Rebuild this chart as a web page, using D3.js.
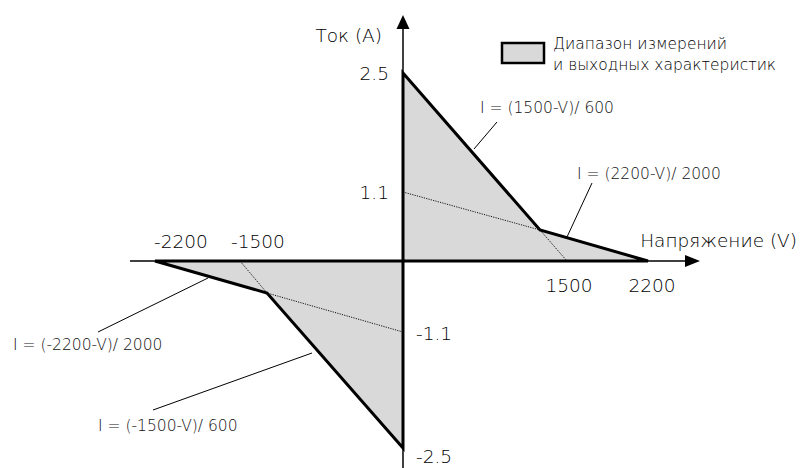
<!DOCTYPE html>
<html><head><meta charset="utf-8">
<script src="https://cdn.jsdelivr.net/npm/d3@7"></script>
<style>
html,body{margin:0;padding:0;background:#fff;}
svg{display:block;font-family:"DejaVu Sans",sans-serif;}
</style></head>
<body>
<svg id="chart" width="804" height="468"></svg>
<script>
// ---- data ----
const voltageKnots = [-2200, -1500, -1200, 0, 1200, 1500, 2200];
const currentKnots = [-2.5, -1.1, -0.5, 0, 0.5, 1.1, 2.5];
const xTickValues = [-2200, -1500, 1500, 2200];
const xTickLabels = ["-2200", "-1500", "1500", "2200"];
const yTickValues = [2.5, 1.1, -1.1, -2.5];
const yTickLabels = ["2.5", "1.1", "-1.1", "-2.5"];
const positiveRegion = [[0, 0], [0, 2.5], [1200, 0.5], [2200, 0]];
const negativeRegion = [[0, 0], [-2200, 0], [-1200, -0.5], [0, -2.5]];
const guideLines = [
  [[0, 1.1], [1200, 0.5]],
  [[1200, 0.5], [1500, 0]],
  [[0, -1.1], [-1200, -0.5]],
  [[-1200, -0.5], [-1500, 0]]
];
const formulaLabels = ["I = (1500-V)/ 600", "I = (2200-V)/ 2000", "I = (-2200-V)/ 2000", "I = (-1500-V)/ 600"];
const legendLines = ["Диапазон измерений", "и выходных характеристик"];
const xTitle = "Напряжение (V)";
const yTitle = "Ток (А)";

// ---- scales (schematic, piecewise linear) ----
const x = d3.scaleLinear().domain(voltageKnots).range([155, 240, 267, 403, 540, 567, 648]);
const y = d3.scaleLinear().domain(currentKnots).range([448, 332, 293, 261, 230, 192, 73]);

const svg = d3.select("#chart");
const line = d3.line().x(d => x(d[0])).y(d => y(d[1]));
const FW = 200, TC = "#000";

// regions
svg.selectAll("path.region").data([positiveRegion, negativeRegion]).join("path")
  .attr("class", "region")
  .attr("d", d => line(d) + "Z")
  .attr("fill", "#d9d9d9").attr("stroke", "none");

// guide dotted lines
svg.selectAll("path.guide").data(guideLines).join("path")
  .attr("d", line).attr("fill", "none")
  .attr("stroke", "#111").attr("stroke-width", 1).attr("stroke-dasharray", "1.2,1.2");

// axes
const x0 = x(0), y0 = y(0);
svg.append("line").attr("x1", 130).attr("x2", 688).attr("y1", y0).attr("y2", y0)
  .attr("stroke", "#000").attr("stroke-width", 1.5);
svg.append("path").attr("d", `M700,${y0} L685,${y0 - 6} L685,${y0 + 6} Z`).attr("fill", "#000");
svg.append("line").attr("x1", x0).attr("x2", x0).attr("y1", 25).attr("y2", 468)
  .attr("stroke", "#000").attr("stroke-width", 1.5);
svg.append("path").attr("d", `M${x0},15 L${x0 - 6.5},29 L${x0 + 6.5},29 Z`).attr("fill", "#000");

// region outlines
svg.selectAll("path.outline").data([positiveRegion, negativeRegion]).join("path")
  .attr("d", d => line(d) + "Z")
  .attr("fill", "none").attr("stroke", "#000").attr("stroke-width", 3).attr("stroke-linejoin", "miter");

// x tick labels
const xLabelShift = [26, 18, 2, 4];
svg.selectAll("text.xt").data(xTickValues).join("text")
  .attr("x", (d, i) => x(d) + xLabelShift[i])
  .attr("y", d => d < 0 ? 248 : 292)
  .attr("text-anchor", "middle")
  .attr("font-size", 18.5).attr("font-weight", FW).attr("fill", TC)
  .text((d, i) => xTickLabels[i]);

// y tick labels
const yLabelShift = [7, 7, 8, 15];
svg.selectAll("text.yt").data(yTickValues).join("text")
  .attr("x", d => d > 0 ? x0 - 14 : x0 + 13)
  .attr("y", (d, i) => y(d) + yLabelShift[i])
  .attr("text-anchor", d => d > 0 ? "end" : "start")
  .attr("font-size", 18.5).attr("font-weight", FW).attr("fill", TC)
  .text((d, i) => yTickLabels[i]);

// axis titles
svg.append("text").attr("x", 382).attr("y", 42).attr("text-anchor", "end")
  .attr("font-size", 18.5).attr("font-weight", FW).attr("fill", TC).text(yTitle);
svg.append("text").attr("x", 797).attr("y", 247).attr("text-anchor", "end")
  .attr("font-size", 18.5).attr("font-weight", FW).attr("fill", TC).text(xTitle);

// legend
svg.append("rect").attr("x", 502).attr("y", 43).attr("width", 42).attr("height", 20)
  .attr("fill", "#d9d9d9").attr("stroke", "#000").attr("stroke-width", 2.5);
svg.selectAll("text.leg").data(legendLines).join("text")
  .attr("x", 553).attr("y", (d, i) => 49 + i * 21)
  .attr("font-size", 15.5).attr("font-weight", FW).attr("fill", TC).text(d => d);

// formula labels with leaders
const formulaPos = [
  {tx: 480, ty: 113, lx1: 497, ly1: 122, lx2: 474, ly2: 149},
  {tx: 577, ty: 179, lx1: 592, ly1: 183, lx2: 567, ly2: 237},
  {tx: 13, ty: 350, lx1: 98, ly1: 332, lx2: 208, ly2: 278},
  {tx: 98, ty: 431, lx1: 153, ly1: 410, lx2: 312, ly2: 353}
];
formulaLabels.forEach((t, i) => {
  const p = formulaPos[i];
  svg.append("line").attr("x1", p.lx1).attr("y1", p.ly1).attr("x2", p.lx2).attr("y2", p.ly2)
    .attr("stroke", "#000").attr("stroke-width", 1);
  svg.append("text").attr("x", p.tx).attr("y", p.ty)
    .attr("font-size", 15.5).attr("font-weight", FW).attr("fill", "#111").text(t);
});
</script>
</body></html>
